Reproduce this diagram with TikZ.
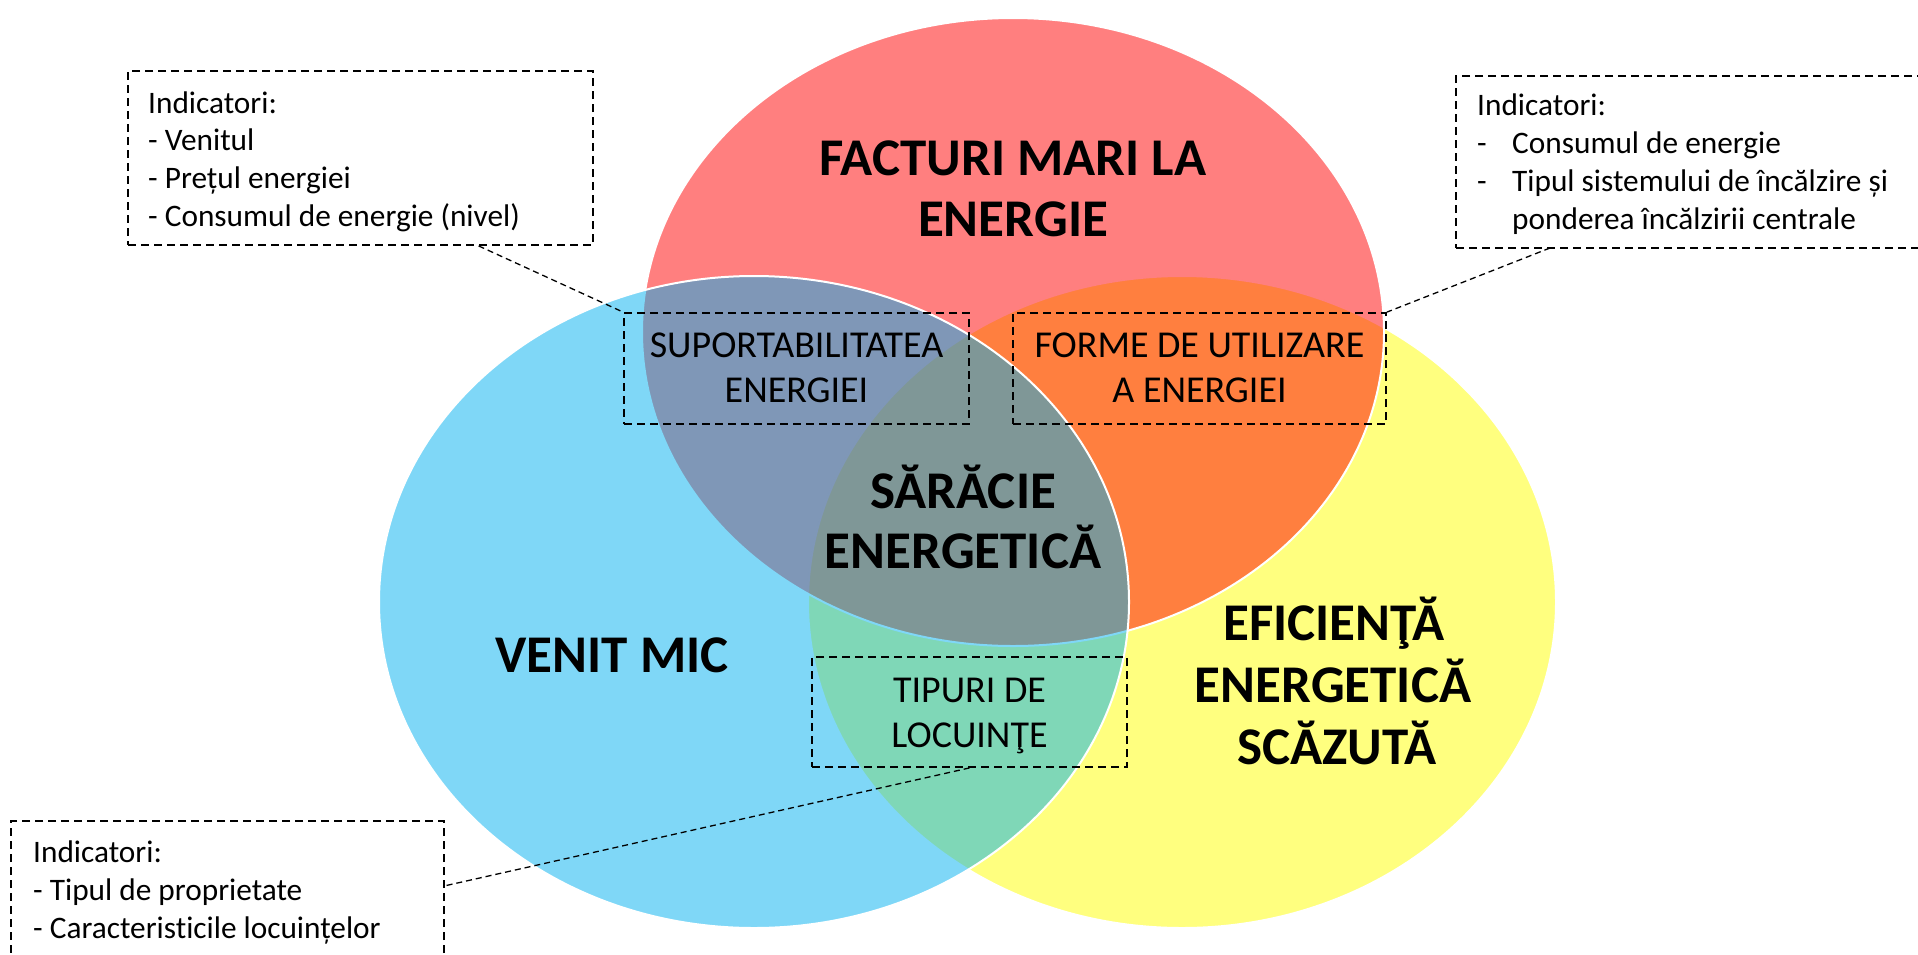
\documentclass[tikz,border=0pt]{standalone}
\usepackage{fontspec}
\setmainfont[Ligatures={NoCommon}]{Carlito}
\usetikzlibrary{calc}
\definecolor{vred}{HTML}{FF0000}
\definecolor{vyellow}{HTML}{FFFF00}
\definecolor{vblue}{HTML}{00B0F0}
\begin{document}
\begin{tikzpicture}[x=1pt,y=-1pt,
  venn/.style={fill opacity=0.5, draw opacity=1, draw=white, line width=2pt},
  ibox/.style={draw=black, line width=1.8pt, dash pattern=on 8pt off 5pt, inner sep=0pt, fill=none},
  link/.style={draw=black, line width=1.3pt, dash pattern=on 6pt off 4pt},
  big/.style={font=\fontsize{53}{61}\selectfont\bfseries, inner sep=0pt, anchor=base},
  mid/.style={font=\fontsize{38}{45}\selectfont, inner sep=0pt, anchor=base},
  ind/.style={font=\fontsize{31.3}{37}\selectfont, inner sep=0pt, anchor=base west}]
\useasboundingbox (0,0) rectangle (1918,954);
% ellipses
\path[venn, fill=vyellow] (1182,602) ellipse [x radius=374, y radius=326];
\path[venn, fill=vred] (1013,332) ellipse [x radius=371, y radius=314];
\path[venn, fill=vblue] (754,602) ellipse [x radius=375, y radius=326];
% inner dashed boxes
\node[ibox, minimum width=345pt, minimum height=111pt] (sup) at (796.5,368.5) {};
\node[ibox, minimum width=373pt, minimum height=111pt] (forme) at (1199.5,368.5) {};
\node[ibox, minimum width=315pt, minimum height=110pt] (tip) at (969.5,712) {};
% indicator boxes
\node[ibox, minimum width=465pt, minimum height=174pt] (tl) at (360.5,158) {};
\node[ibox, minimum width=480pt, minimum height=172pt] (tr) at (1696,162) {};
\node[ibox, minimum width=433pt, minimum height=180pt] (bl) at (227.5,911) {};
% connectors
\coordinate (tlc) at ($(tl.south west)!0.753!(tl.south east)$);
\coordinate (trc) at (1550,248);
\coordinate (blc) at (444,886);
\draw[link] (tlc) -- (sup.north west);
\draw[link] (trc) -- (forme.north east);
\draw[link] (tip.south) -- (blc);
% big labels
\node[big] (f1) at (1013,175) {FACTURI MARI LA};
\node[big] (f2) at (1013,236) {ENERGIE};
\node[big] (s1) at (963,508) {SĂRĂCIE};
\node[big] (s2) at (963,568) {ENERGETICĂ};
\node[big] (v1) at (612,672) {VENIT MIC};
\node[big] (e1) at (1334,640) {EFICIENŢĂ};
\node[big] (e2) at (1333,702) {ENERGETICĂ};
\node[big] (e3) at (1337,764) {SCĂZUTĂ};
% inner labels
\node[mid] (sup1) at (796.5,357) {SUPORTABILITATEA};
\node[mid] (sup2) at (796.5,402) {ENERGIEI};
\node[mid] (fo1) at (1199.5,357) {FORME DE UTILIZARE};
\node[mid] (fo2) at (1199.5,402) {A ENERGIEI};
\node[mid] (ti1) at (969.5,702) {TIPURI DE};
\node[mid] (ti2) at (969.5,747) {LOCUINŢE};
% indicator texts top-left
\node[ind] (tl1) at (148,113) {Indicatori:};
\node[ind] (tl2) at (148,150.5) {- Venitul};
\node[ind] (tl3) at (148,188) {- Prețul energiei};
\node[ind] (tl4) at (148,226) {- Consumul de energie (nivel)};
% top-right
\node[ind] (tr1) at (1477,115) {Indicatori:};
\node[ind] (tr2d) at (1477,153) {-};
\node[ind] (tr2) at (1512,153) {Consumul de energie};
\node[ind] (tr3d) at (1477,191) {-};
\node[ind] (tr3) at (1512,191) {Tipul sistemului de încălzire și};
\node[ind] (tr4) at (1512,229) {ponderea încălzirii centrale};
% bottom-left
\node[ind] (bl1) at (33,862) {Indicatori:};
\node[ind] (bl2) at (33,900) {- Tipul de proprietate};
\node[ind] (bl3) at (33,938) {- Caracteristicile locuințelor};
\end{tikzpicture}
\end{document}
